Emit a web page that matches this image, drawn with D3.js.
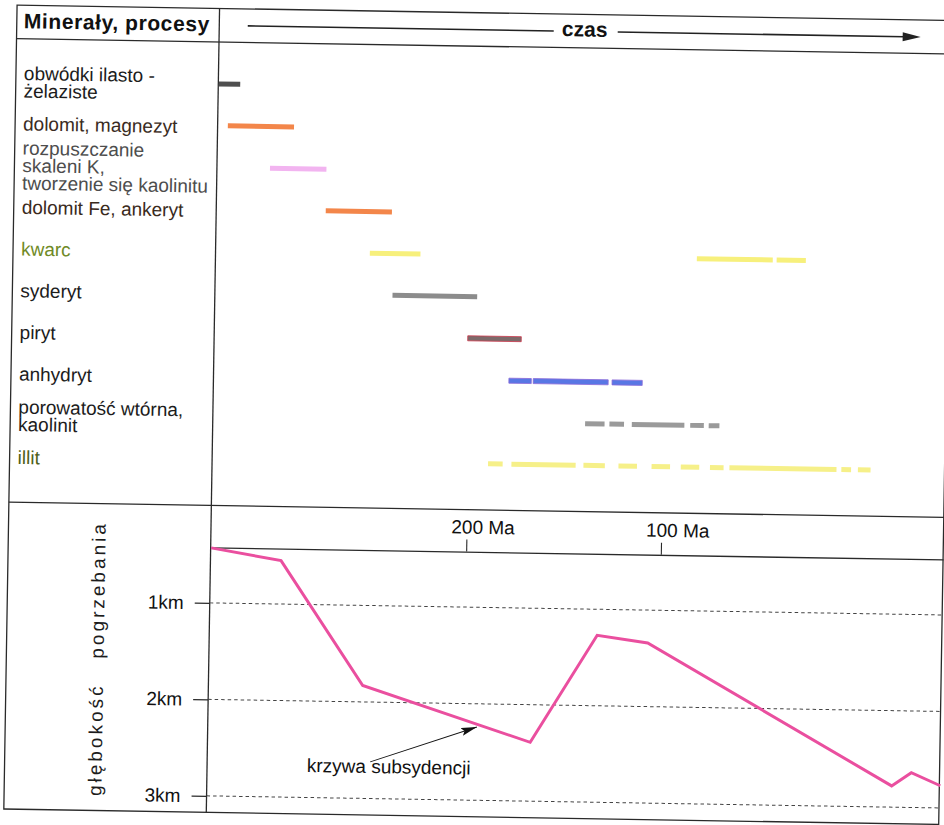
<!DOCTYPE html>
<html>
<head>
<meta charset="utf-8">
<script src="https://cdn.jsdelivr.net/npm/d3@7"></script>
<style>
  body { margin: 0; background: #fff; }
  svg { display: block; font-family: "Liberation Sans", Arial, sans-serif; }
</style>
</head>
<body>
<div id="chart"></div>
<script>
// --- top panel: minerals / processes, one row each
const processLabels = [
  ["obwódki ilasto -", "żelaziste"],
  ["dolomit, magnezyt"],
  ["rozpuszczanie", "skaleni K,", "tworzenie się kaolinitu"],
  ["dolomit Fe, ankeryt"],
  ["kwarc"],
  ["syderyt"],
  ["piryt"],
  ["anhydryt"],
  ["porowatość wtórna,", "kaolinit"],
  ["illit"]
];
const labelColors = ["#1c1c1c", "#3a2b22", "#4d4d4d", "#3a2a1c", "#6f8a26",
                     "#1c1c1c", "#1c1c1c", "#1c1c1c", "#1c1c1c", "#4f5f18"];
const barColors = ["#4f4f4f", "#f3864a", "#f2b4f0", "#f3864a", "#f7f07c",
                   "#8c8c8c", "#7d6a6a", "#5877e4", "#9a9a9a", "#f6f089"];
const barStrokes = ["none", "none", "none", "none", "none",
                    "none", "#cc3b4e", "#8a6ad8", "none", "none"];
// time span of each process, [from, to] in Ma
const processSpans = [
  [[331, 320]],
  [[326, 292]],
  [[304, 275]],
  [[275, 241]],
  [[252, 226], [84, 45], [43, 28]],
  [[240, 196.5]],
  [[201, 173.5]],
  [[179.5, 168], [167, 128.5], [126.5, 111]],
  [[140, 130], [127.5, 120], [116, 89], [86, 79], [76.5, 71]],
  [[189.5, 182], [177.5, 144.5], [140.5, 129.5], [122.5, 113], [105.5, 96],
   [90.5, 81], [75.5, 68.5], [65.5, 10.5], [8, 3], [-0.5, -7]]
];

// --- bottom panel: burial depth curve
const curveAges = [331, 295, 252, 165.5, 132, 106, -20.5, -30.5, -45.5];
const curveDepths = [0.43, 0.55, 1.83, 2.39, 1.27, 1.34, 2.78, 2.64, 2.77];
const ageTicks = [200, 100];
const depthTicks = [1, 2, 3];
const note = { text: "krzywa subsydencji", age: 280, depth: 2.735,
               fromAge: 247.5, fromDepth: 2.62, toAge: 193, toDepth: 2.24 };

const W = 944, H = 825;
const frame = { left: 17, right: 952, top: 5, bottom: 809, divider: 219.5, header: 38.5, split: 502, axis: 544 };
const font = 19;

const svg = d3.select("#chart").append("svg")
  .attr("width", W)
  .attr("height", H);

// the scanned figure sits slightly skewed
const g = svg.append("g").attr("transform", "rotate(0.945, 10, 10)");

const xScale = d3.scaleLinear().domain([331, -45]).range([frame.divider + 0.5, frame.right]);
const yRow = d3.scalePoint().domain(d3.range(processLabels.length)).range([80.5, 455.8]);
const yDepth = d3.scaleLinear().domain([0, 3]).range([503, 792.5]);

// frame lines
g.append("rect")
  .attr("x", frame.left).attr("y", frame.top)
  .attr("width", frame.right - frame.left).attr("height", frame.bottom - frame.top)
  .attr("fill", "none").attr("stroke", "#2a2a2a").attr("stroke-width", 1.3);

[frame.header, frame.split].forEach(y => {
  g.append("line")
    .attr("x1", frame.left).attr("x2", frame.right)
    .attr("y1", y).attr("y2", y)
    .attr("stroke", "#2a2a2a").attr("stroke-width", 1.3);
});

g.append("line")
  .attr("x1", frame.divider).attr("x2", frame.divider)
  .attr("y1", frame.top).attr("y2", frame.bottom)
  .attr("stroke", "#2a2a2a").attr("stroke-width", 1.3);

// header
g.append("text")
  .attr("x", 24).attr("y", 28)
  .attr("font-size", 21).attr("font-weight", "bold")
  .attr("letter-spacing", 0.6)
  .attr("fill", "#111")
  .text("Minerały, procesy");

g.append("text")
  .attr("x", 585).attr("y", 27)
  .attr("text-anchor", "middle")
  .attr("font-size", 21).attr("font-weight", "bold")
  .attr("fill", "#111")
  .text("czas");

g.append("line")
  .attr("x1", 248).attr("x2", 554).attr("y1", 22).attr("y2", 22)
  .attr("stroke", "#222").attr("stroke-width", 1.6);
g.append("line")
  .attr("x1", 618).attr("x2", 905).attr("y1", 22).attr("y2", 22)
  .attr("stroke", "#222").attr("stroke-width", 1.6);
g.append("path")
  .attr("d", "M903,17.6 L921,22 L903,26.4 Z")
  .attr("fill", "#222");

// process labels, vertically centred on their row
const lineStep = 17.5;
const labels = g.append("g").attr("class", "labels");
processLabels.forEach((lines, i) => {
  const first = yRow(i) + 8 - (lines.length - 1) * lineStep / 2;
  const t = labels.append("text")
    .attr("font-size", font)
    .attr("fill", labelColors[i]);
  lines.forEach((line, k) => {
    t.append("tspan")
      .attr("x", 25)
      .attr("y", first + k * lineStep)
      .text(line);
  });
});

// process bars
const bars = processSpans.flatMap((spans, i) => spans.map(s => ({ row: i, from: s[0], to: s[1] })));
g.append("g").attr("class", "bars")
  .selectAll("rect")
  .data(bars)
  .enter()
  .append("rect")
  .attr("x", d => xScale(d.from))
  .attr("width", d => xScale(d.to) - xScale(d.from))
  .attr("y", d => yRow(d.row) - 2.5)
  .attr("height", 5)
  .attr("fill", d => barColors[d.row])
  .attr("stroke", d => barStrokes[d.row])
  .attr("stroke-width", 0.8);

// age axis on top of the depth plot
const xAxis = g.append("g")
  .attr("class", "axis-x")
  .attr("transform", `translate(0, ${frame.axis})`)
  .call(d3.axisTop(xScale).tickValues(ageTicks).tickSize(12).tickSizeOuter(0).tickPadding(6)
    .tickFormat(d => d + " Ma"));
xAxis.select(".domain").attr("stroke", "#2a2a2a").attr("stroke-width", 1.3);
xAxis.selectAll(".tick line").attr("stroke", "#2a2a2a").attr("stroke-width", 1.1);
xAxis.selectAll("text")
  .attr("x", 16)
  .attr("font-size", font)
  .attr("font-family", "Liberation Sans, Arial, sans-serif")
  .attr("fill", "#111");

// depth gridlines
g.append("g").attr("class", "grid")
  .selectAll("line")
  .data(depthTicks)
  .enter()
  .append("line")
  .attr("x1", frame.divider).attr("x2", frame.right)
  .attr("y1", d => yDepth(d)).attr("y2", d => yDepth(d))
  .attr("stroke", "#444").attr("stroke-width", 1)
  .attr("stroke-dasharray", "3.5,3");

const yAxis = g.append("g")
  .attr("class", "axis-y")
  .attr("transform", `translate(${frame.divider}, 0)`)
  .call(d3.axisLeft(yDepth).tickValues(depthTicks).tickSize(15).tickPadding(11)
    .tickFormat(d => d + "km"));
yAxis.select(".domain").remove();
yAxis.selectAll(".tick line").attr("stroke", "#2a2a2a").attr("stroke-width", 1.1);
yAxis.selectAll("text")
  .attr("font-size", font)
  .attr("font-family", "Liberation Sans, Arial, sans-serif")
  .attr("fill", "#111");

g.append("text")
  .attr("transform", "translate(107.5, 657) rotate(-90)")
  .attr("text-anchor", "middle")
  .attr("dy", "0.35em")
  .attr("font-size", font)
  .attr("letter-spacing", 3)
  .attr("fill", "#1c1c1c")
  .style("white-space", "pre")
  .text("głębokość   pogrzebania");

// burial (subsidence) curve
const curve = curveAges.map((a, i) => [a, curveDepths[i]]);
g.append("path")
  .datum(curve)
  .attr("fill", "none")
  .attr("stroke", "#ea4f9f")
  .attr("stroke-width", 3)
  .attr("stroke-linejoin", "miter")
  .attr("d", d3.line().x(d => xScale(d[0])).y(d => yDepth(d[1])));

// annotation
svg.append("defs").append("marker")
  .attr("id", "head")
  .attr("viewBox", "0 0 16 8")
  .attr("refX", 16).attr("refY", 4)
  .attr("markerWidth", 16).attr("markerHeight", 8)
  .attr("markerUnits", "userSpaceOnUse")
  .attr("orient", "auto")
  .append("path")
  .attr("d", "M0,0 L16,4 L0,8 L3,4 Z")
  .attr("fill", "#111");

g.append("line")
  .attr("x1", xScale(note.fromAge)).attr("y1", yDepth(note.fromDepth))
  .attr("x2", xScale(note.toAge)).attr("y2", yDepth(note.toDepth))
  .attr("stroke", "#111").attr("stroke-width", 1)
  .attr("marker-end", "url(#head)");

g.append("text")
  .attr("x", xScale(note.age)).attr("y", yDepth(note.depth))
  .attr("font-size", font)
  .attr("fill", "#111")
  .text(note.text);
</script>
</body>
</html>
